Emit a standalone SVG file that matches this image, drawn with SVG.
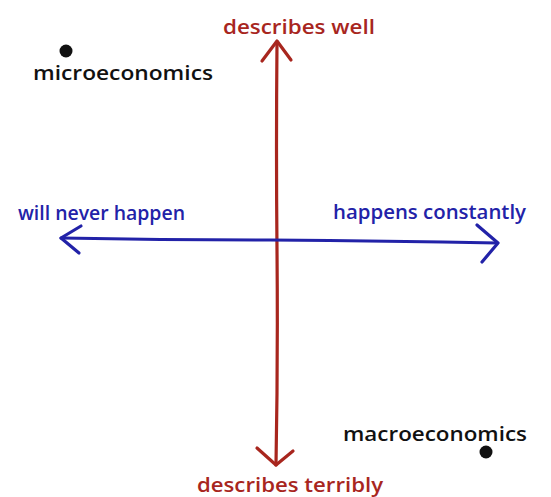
<svg xmlns="http://www.w3.org/2000/svg" width="551" height="497" viewBox="0 0 551 497">
<style>
.red{stroke:#a8261e;fill:none;stroke-width:3.2;stroke-linecap:round;stroke-linejoin:round}
.blue{stroke:#2222a8;fill:none;stroke-width:3.2;stroke-linecap:round;stroke-linejoin:round}
.t{font-family:"Open Sans","Liberation Sans",sans-serif;font-size:20px;font-weight:600}
.tr{fill:#a8261e}
.tb{fill:#2222a8}
.tk{fill:#111}
</style>
<rect width="551" height="497" fill="#fff"/>
<g id="connectors">
<path class="red" d="M277,42 Q276,150 277,250 Q278,360 276,465"/>
<path class="red" d="M262,61 L277,41 L291,60"/>
<path class="red" d="M257,448 L276,465 L293,451"/>
<path class="blue" d="M61,238 Q170,240 270,240 Q390,241 497,243"/>
<path class="blue" d="M81,226 L61,238 L79,253"/>
<path class="blue" d="M477,225 L498,243 L482,262"/>
</g>
<g id="describes-well"><text class="t tr" x="223" y="34" textLength="152" lengthAdjust="spacingAndGlyphs">describes well</text></g>
<g id="describes-terribly"><text class="t tr" x="197" y="492" textLength="186" lengthAdjust="spacingAndGlyphs">describes terribly</text></g>
<g id="will-never-happen"><text class="t tb" x="18" y="220" textLength="167" lengthAdjust="spacingAndGlyphs">will never happen</text></g>
<g id="happens-constantly"><text class="t tb" x="333" y="219" textLength="193" lengthAdjust="spacingAndGlyphs">happens constantly</text></g>
<g id="microeconomics"><circle cx="66" cy="51" r="6.5" fill="#111"/><text class="t tk" x="33" y="80" textLength="180" lengthAdjust="spacingAndGlyphs">microeconomics</text></g>
<g id="macroeconomics"><circle cx="486" cy="452" r="6.5" fill="#111"/><text class="t tk" x="343" y="441" textLength="184" lengthAdjust="spacingAndGlyphs">macroeconomics</text></g>
</svg>
